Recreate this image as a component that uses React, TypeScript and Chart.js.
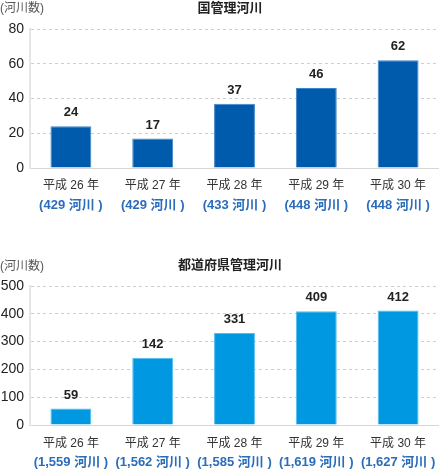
import React, { useEffect, useRef } from "react";
import { Chart, registerables } from "chart.js";

Chart.register(...registerables);

const FONT = '"Liberation Sans", "Noto Sans CJK JP", sans-serif';

const years = ["平成 26 年", "平成 27 年", "平成 28 年", "平成 29 年", "平成 30 年"];

const nationalTitle = "国管理河川";
const nationalTotals = ["(429 河川 )", "(429 河川 )", "(433 河川 )", "(448 河川 )", "(448 河川 )"];
const nationalValues = [24, 17, 37, 46, 62];
const nationalLabels = ["24", "17", "37", "46", "62"];
const nationalMax = 80;
const nationalStep = 20;

const prefTitle = "都道府県管理河川";
const prefTotals = ["(1,559 河川 )", "(1,562 河川 )", "(1,585 河川 )", "(1,619 河川 )", "(1,627 河川 )"];
const prefValues = [59, 242, 331, 409, 412];
const prefLabels = ["59", "142", "331", "409", "412"];
const prefMax = 500;
const prefStep = 100;

const unitLabel = "(河川数)";

const decor = {
  id: "decor",
  afterDatasetsDraw(chart: any, _args: any, opts: any) {
    const ctx = chart.ctx;
    const meta = chart.getDatasetMeta(0);
    ctx.save();
    ctx.font = `bold 13px ${FONT}`;
    ctx.fillStyle = "#222";
    ctx.textAlign = "center";
    ctx.textBaseline = "bottom";
    meta.data.forEach((bar: any, i: number) => {
      ctx.fillText(opts.labels[i], bar.x, bar.y - 7);
    });
    ctx.textBaseline = "middle";
    ctx.fillText(opts.title, opts.titleX, opts.titleY);
    ctx.font = `12px ${FONT}`;
    ctx.textAlign = "left";
    ctx.fillStyle = "#555";
    ctx.fillText(unitLabel, 0, opts.unitY);
    ctx.restore();
  },
};

type Props = {
  title: string;
  totals: string[];
  values: number[];
  labels: string[];
  max: number;
  step: number;
  color: string;
  border: string;
  padTop: number;
  p1: number;
  p2: number;
  h1: number;
  h2: number;
  titleY: number;
  unitY: number;
};

function BarPanel(props: Props) {
  const ref = useRef<HTMLCanvasElement | null>(null);
  useEffect(() => {
    if (!ref.current) return;
    const chart = new Chart(ref.current, {
      type: "bar",
      data: {
        labels: years,
        datasets: [
          {
            data: props.values,
            backgroundColor: props.color,
            borderColor: props.border,
            borderWidth: 1,
            categoryPercentage: 1,
            barPercentage: 0.5,
            xAxisID: "x",
            yAxisID: "y",
          },
        ],
      },
      options: {
        responsive: false,
        animation: false,
        devicePixelRatio: 1,
        layout: { padding: { top: props.padTop, bottom: 0, left: 0, right: 0 } },
        plugins: {
          legend: { display: false },
          tooltip: { enabled: false },
          title: { display: false },
          decor: {
            labels: props.labels,
            title: props.title,
            titleX: 230,
            titleY: props.titleY,
            unitY: props.unitY,
          },
        } as any,
        scales: {
          x: {
            type: "category",
            position: "bottom",
            weight: 0,
            offset: true,
            afterFit: (scale: any) => {
              scale.height = props.h1;
            },
            grid: { display: false, drawTicks: false },
            border: { display: true, color: "#d6d6d6", width: 1 },
            ticks: {
              font: { family: FONT, size: 12 },
              color: "#333",
              padding: props.p1,
              maxRotation: 0,
              autoSkip: false,
            },
          },
          x2: {
            type: "category",
            labels: props.totals,
            position: "bottom",
            weight: 1,
            offset: true,
            afterFit: (scale: any) => {
              scale.height = props.h2;
            },
            grid: { display: false, drawTicks: false },
            border: { display: false },
            ticks: {
              font: { family: FONT, size: 13, weight: "bold" },
              color: "#2a6dbb",
              padding: props.p2,
              maxRotation: 0,
              autoSkip: false,
            },
          },
          y: {
            min: 0,
            max: props.max,
            afterFit: (scale: any) => {
              scale.width = 30;
            },
            ticks: {
              stepSize: props.step,
              font: { family: FONT, size: 14 },
              color: "#222",
              padding: 6,
            },
            grid: { color: "#cfcfcf", drawTicks: false, lineWidth: 1 },
            border: { display: true, color: "#e6e6e6", width: 2, dash: [3, 3] },
          },
        } as any,
      },
      plugins: [decor as any],
    });
    return () => chart.destroy();
  }, []);
  return (
    <canvas ref={ref} width={439} height={237} style={{ display: "block", width: 439, height: 237 }} />
  );
}

export default function App() {
  useEffect(() => {
    document.body.style.margin = "0";
    document.body.style.background = "#fff";
  }, []);
  return (
    <div style={{ width: 439, height: 474, background: "#fff" }}>
      <BarPanel
        title={nationalTitle}
        totals={nationalTotals}
        values={nationalValues}
        labels={nationalLabels}
        max={nationalMax}
        step={nationalStep}
        color="#005bac"
        border="#3f86c8"
        padTop={29}
        p1={10}
        p2={2}
        h1={28}
        h2={41}
        titleY={8}
        unitY={9}
      />
      <BarPanel
        title={prefTitle}
        totals={prefTotals}
        values={prefValues}
        labels={prefLabels}
        max={prefMax}
        step={prefStep}
        color="#0098e0"
        border="#53bdf0"
        padTop={49}
        p1={11}
        p2={2}
        h1={28}
        h2={21}
        titleY={28}
        unitY={30}
      />
    </div>
  );
}
